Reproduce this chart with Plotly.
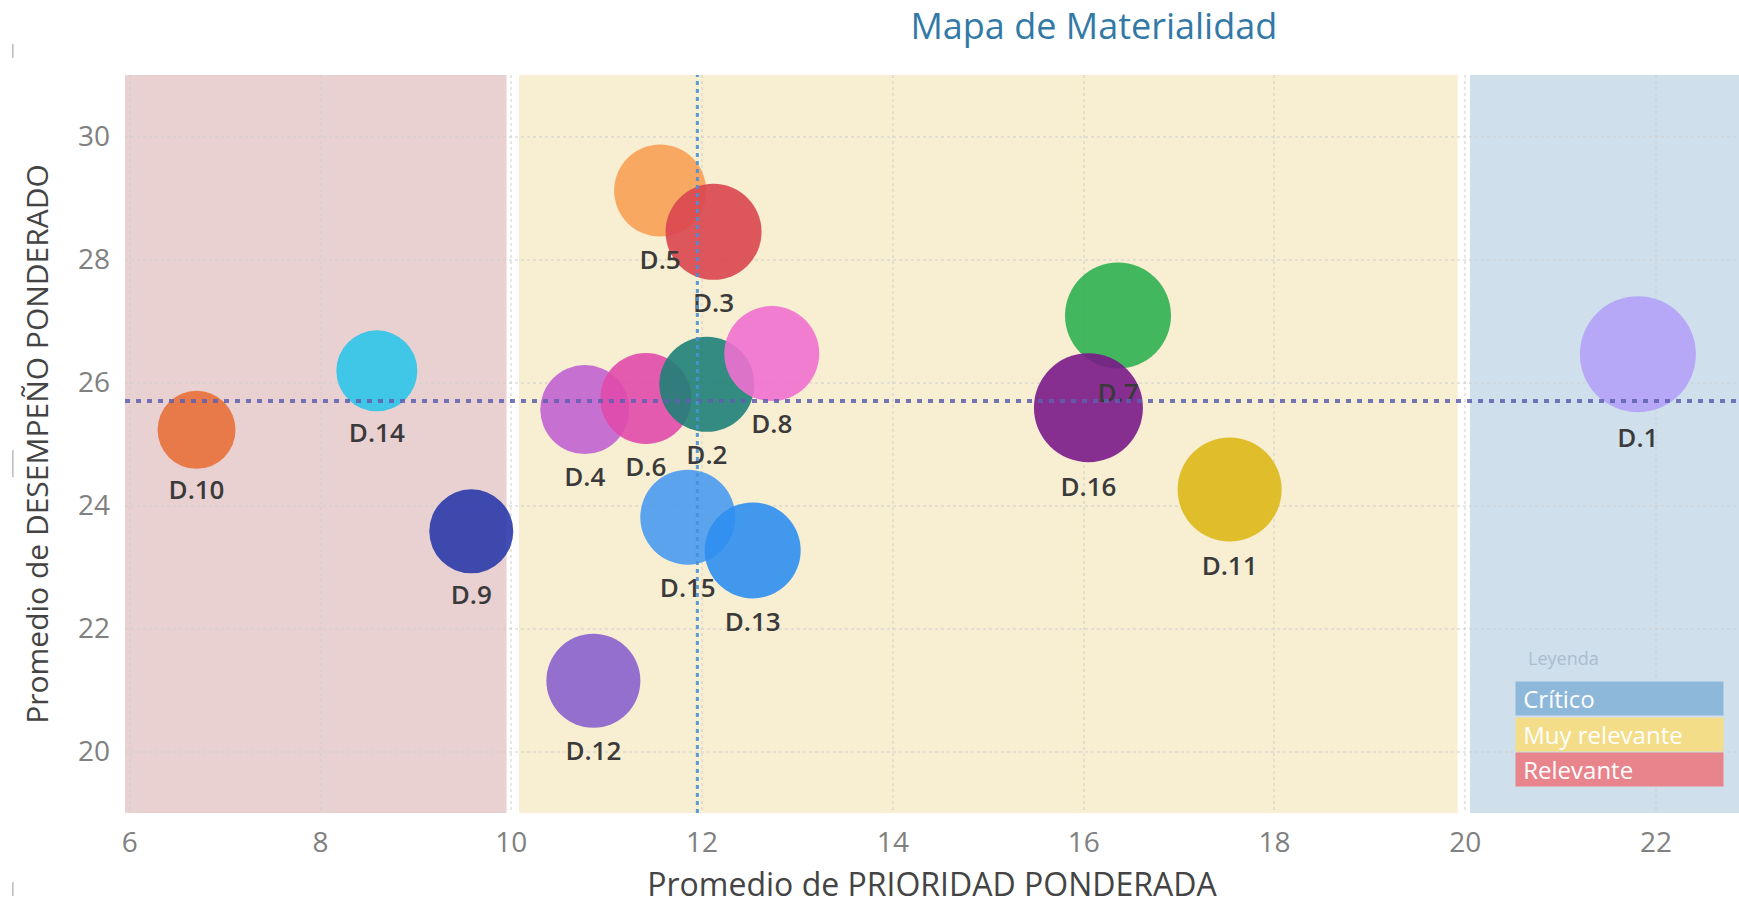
import plotly.graph_objects as go

# ---- data ----
labels = ["D.10", "D.14", "D.9", "D.4", "D.6", "D.2", "D.8", "D.5",
          "D.3", "D.15", "D.13", "D.12", "D.7", "D.16", "D.11", "D.1"]
prioridad = [6.70, 8.59, 9.58, 10.77, 11.41, 12.05, 12.73, 11.56,
             12.12, 11.85, 12.53, 10.86, 16.36, 16.05, 17.53, 21.81]
desempeno = [25.23, 26.19, 23.58, 25.56, 25.74, 25.97, 26.47, 29.12,
             28.45, 23.81, 23.27, 21.15, 27.09, 25.59, 24.26, 26.46]
bubble_size = [78, 81, 84, 89, 91, 95, 95, 92,
               96, 95, 96, 94, 106, 109, 104, 116]
colors = ["#E8703A", "#2EC4E8", "#2B3AAA", "#C063D0", "#E04AAA", "#1E7F78",
          "#F070D0", "#F8A055", "#D9454F", "#4A9AF0", "#2E8EF0", "#8A60CC",
          "#2DB050", "#7A1A8A", "#DDB818", "#B3A2F8"]

band_names = ["Relevante", "Muy relevante", "Crítico"]
band_start = [5.95, 10.08, 20.05]
band_end = [9.95, 19.92, 22.87]
band_colors = ["#E9D1D2", "#F8EED2", "#CFE0EC"]

legend_names = ["Crítico", "Muy relevante", "Relevante"]
legend_colors = ["#8DB8DA", "#F3DD88", "#E8848C"]

ref_prioridad = 11.95
ref_desempeno = 25.7

x_ticks = [6, 8, 10, 12, 14, 16, 18, 20, 22]
y_ticks = [20, 22, 24, 26, 28, 30]

FONT = "Open Sans"

fig = go.Figure()

fig.add_trace(go.Scatter(
    x=prioridad, y=desempeno, mode="markers+text",
    text=labels, textposition="bottom center",
    textfont=dict(family=FONT, size=26, color="#3A3A3A", weight=600),
    marker=dict(size=bubble_size, color=colors, opacity=0.9,
                line=dict(width=0)),
    hoverinfo="text", showlegend=False,
))

shapes = []
for s, e, c in zip(band_start, band_end, band_colors):
    shapes.append(dict(type="rect", xref="x", yref="y domain",
                       x0=s, x1=e, y0=0, y1=1, fillcolor=c,
                       line=dict(width=0), layer="below"))
shapes.append(dict(type="line", xref="x domain", yref="y", x0=0, x1=1,
                   y0=ref_desempeno, y1=ref_desempeno, layer="above",
                   line=dict(color="rgba(95,95,175,0.85)", width=4, dash="5px,6px")))
shapes.append(dict(type="line", xref="x", yref="y domain", x0=ref_prioridad,
                   x1=ref_prioridad, y0=0, y1=1, layer="above",
                   line=dict(color="rgba(70,145,215,0.9)", width=3, dash="4px,4px")))
# small grey marks at the left edge of the picture
for y0, y1 in [(1.023, 1.042), (-0.1125, -0.0935), (0.455, 0.492)]:
    shapes.append(dict(type="line", xref="paper", yref="paper", x0=-0.0695,
                       x1=-0.0695, y0=y0, y1=y1,
                       line=dict(color="#BBBBBB", width=1.5)))

annotations = [dict(text="Leyenda", xref="paper", yref="paper", x=0.868, y=0.210,
                    xanchor="left", yanchor="middle", showarrow=False,
                    font=dict(family=FONT, size=18, color="#A9BED0"))]
leg_y = [0.155, 0.106, 0.059]
for name, col, yy in zip(legend_names, legend_colors, leg_y):
    annotations.append(dict(text="\u00a0" + name, xref="paper", yref="paper",
                            x=0.861, y=yy,
                            xanchor="left", yanchor="middle", showarrow=False,
                            width=205, height=31, align="left", bgcolor=col,
                            borderpad=1,
                            font=dict(family=FONT, size=24, color="white")))

fig.update_layout(
    width=1739, height=905,
    margin=dict(l=125, r=0, t=75, b=92),
    paper_bgcolor="white", plot_bgcolor="white",
    title=dict(text="Mapa de Materialidad", x=0.629, xanchor="center",
               y=0.9705, yanchor="middle",
               font=dict(family=FONT, size=36, color="#3279A6")),
    shapes=shapes, annotations=annotations,
    xaxis=dict(range=[5.95, 22.87], tickvals=x_ticks, showline=False,
               zeroline=False, showgrid=True, gridcolor="rgba(205,205,205,0.5)",
               griddash="dot", gridwidth=1.5, ticks="", automargin=False,
               ticklabelstandoff=10,
               tickfont=dict(family=FONT, size=28, color="#808080"),
               title=dict(text="Promedio de PRIORIDAD PONDERADA", standoff=16,
                          font=dict(family=FONT, size=32, color="#444444"))),
    yaxis=dict(range=[19, 31], tickvals=y_ticks, showline=False,
               zeroline=False, showgrid=True, gridcolor="rgba(205,205,205,0.5)",
               griddash="dot", gridwidth=1.5, ticks="", automargin=False,
               ticklabelstandoff=14,
               tickfont=dict(family=FONT, size=28, color="#808080"),
               title=dict(text="Promedio de DESEMPEÑO PONDERADO", standoff=20,
                          font=dict(family=FONT, size=30, color="#444444"))),
)

fig.write_html("out.html", config={"displayModeBar": False},
               post_script="document.body.style.margin='0';")
